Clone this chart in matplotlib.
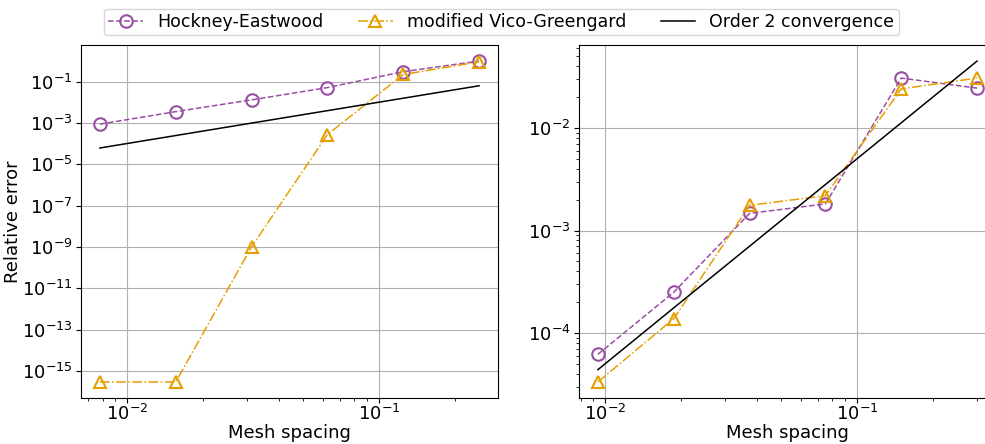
import matplotlib

matplotlib.use("Agg")
import matplotlib.pyplot as plt


# left panel: h = 2^-7 .. 2^-2
H_LEFT = [0.0078125, 0.015625, 0.03125, 0.0625, 0.125, 0.25]
HE_LEFT = [8.7e-4, 3.5e-3, 1.3e-2, 5.1e-2, 0.30, 0.98]
VG_LEFT = [2.9e-16, 2.9e-16, 1.0e-9, 2.7e-4, 0.22, 0.90]
ORDER2_LEFT = [6.1e-5, 2.44e-4, 9.77e-4, 3.9e-3, 1.56e-2, 6.25e-2]

# right panel
H_RIGHT = [0.009375, 0.01875, 0.0375, 0.075, 0.15, 0.3]
HE_RIGHT = [6.2e-5, 2.5e-4, 1.47e-3, 1.82e-3, 3.07e-2, 2.45e-2]
VG_RIGHT = [3.33e-5, 1.38e-4, 1.76e-3, 2.19e-3, 2.41e-2, 3.07e-2]
ORDER2_RIGHT = [4.39e-5, 1.76e-4, 7.03e-4, 2.81e-3, 1.125e-2, 4.5e-2]

PURPLE = "#984ea3"
ORANGE = "#e69f00"

plt.rcParams["font.family"] = ["DejaVu Sans"]

fig = plt.figure(figsize=(9.85, 4.44), dpi=100)
ax_left = fig.add_axes([0.0822, 0.1036, 0.4234, 0.795])
ax_right = fig.add_axes([0.5878, 0.1036, 0.4234, 0.795])

panels = [
    (ax_left, H_LEFT, HE_LEFT, VG_LEFT, ORDER2_LEFT),
    (ax_right, H_RIGHT, HE_RIGHT, VG_RIGHT, ORDER2_RIGHT),
]
for ax, h, he, vg, order2 in panels:
    ax.loglog(h, he, "--o", color=PURPLE, markersize=9, markerfacecolor="none",
              markeredgewidth=1.5, linewidth=1.1, label="Hockney-Eastwood")
    ax.loglog(h, vg, "-.^", color=ORANGE, markersize=9, markerfacecolor="none",
              markeredgewidth=1.5, linewidth=1.1, label="modified Vico-Greengard")
    ax.loglog(h, order2, "-", color="black", linewidth=1.1,
              label="Order 2 convergence")
    ax.grid(True)
    ax.set_xlabel("Mesh spacing", fontsize=13, labelpad=0.5)
    ax.tick_params(labelsize=13)
    ax.tick_params(axis="y", which="both", pad=2.5)
    ax.tick_params(axis="x", which="both", pad=0.5)

ax_left.set_ylabel("Relative error", fontsize=13)
ax_left.yaxis.set_label_coords(-0.1415, 0.5)

handles, labels = ax_left.get_legend_handles_labels()
fig.legend(handles, labels, loc="upper center", ncol=3, fontsize=12.5,
           borderpad=0.25, bbox_to_anchor=(0.509, 1.0))

fig.savefig("out.png", dpi=100)
